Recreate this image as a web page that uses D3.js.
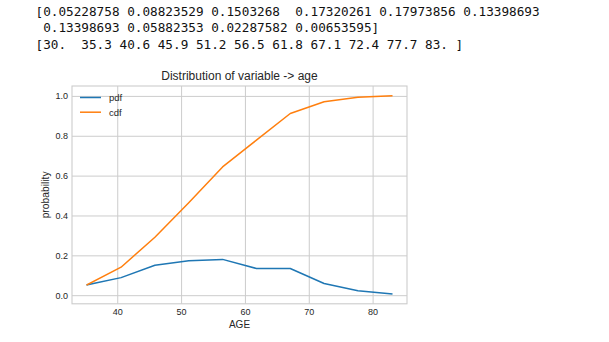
<!DOCTYPE html>
<html><head><meta charset="utf-8">
<script src="https://cdn.jsdelivr.net/npm/d3@7"></script>
<style>
body{margin:0;background:#fff;}
svg{display:block;}
</style></head>
<body>
<script>
const pdf = [0.05228758, 0.08823529, 0.1503268, 0.17320261, 0.17973856, 0.13398693, 0.13398693, 0.05882353, 0.02287582, 0.00653595];
const binEdges = [30.0, 35.3, 40.6, 45.9, 51.2, 56.5, 61.8, 67.1, 72.4, 77.7, 83.0];
const xTicks = [40, 50, 60, 70, 80];
const yTicks = [0.0, 0.2, 0.4, 0.6, 0.8, 1.0];
const seriesNames = ["pdf", "cdf"];
const printedLines = [
  "[0.05228758 0.08823529 0.1503268  0.17320261 0.17973856 0.13398693",
  " 0.13398693 0.05882353 0.02287582 0.00653595]",
  "[30.  35.3 40.6 45.9 51.2 56.5 61.8 67.1 72.4 77.7 83. ]"
];

const W = 609, H = 342;
const svg = d3.select("body").append("svg").attr("width", W).attr("height", H);

// printed output
svg.append("g").selectAll("text").data(printedLines).join("text")
  .attr("x", 35.5).attr("y", (d, i) => 15.6 + i * 16.7)
  .attr("font-family", "DejaVu Sans Mono, monospace")
  .attr("font-size", 12.7).attr("fill", "#111")
  .style("white-space", "pre").attr("xml:space", "preserve")
  .text(d => d);

const xs = binEdges.slice(1);
const cdf = [];
pdf.reduce((a, v, i) => (cdf[i] = a + v), 0);
const data = [pdf, cdf];
const colors = ["#1f77b4", "#ff7f0e"];

const L = 72, R = 407, T = 86, B = 303.8;
const xMin = d3.min(xs), xMax = d3.max(xs);
const xPad = (xMax - xMin) * 0.05;
const allY = pdf.concat(cdf);
const yMin = d3.min(allY), yMax = d3.max(allY);
const yPad = (yMax - yMin) * 0.05;
const x = d3.scaleLinear().domain([xMin - xPad, xMax + xPad]).range([L, R]);
const y = d3.scaleLinear().domain([yMin - yPad, yMax + yPad]).range([B, T]);

const font = "Liberation Sans, Arial, sans-serif";
const textCol = "#262626";
const gridCol = "#cccccc";

// grid
const xAxis = d3.axisBottom(x).tickValues(xTicks).tickSize(-(B - T)).tickPadding(4).tickFormat(d3.format("d"));
const yAxis = d3.axisLeft(y).tickValues(yTicks).tickSize(-(R - L)).tickPadding(4).tickFormat(d3.format(".1f"));

const gx = svg.append("g").attr("transform", `translate(0,${B})`).call(xAxis);
const gy = svg.append("g").attr("transform", `translate(${L},0)`).call(yAxis);
[gx, gy].forEach(g => {
  g.select(".domain").remove();
  g.selectAll(".tick line").attr("stroke", gridCol).attr("stroke-width", 1);
  g.selectAll(".tick text").attr("font-family", font).attr("font-size", 9).attr("fill", textCol);
});
gx.selectAll(".tick text").attr("dy", "0.71em").attr("y", 4.5);

// frame
svg.append("rect").attr("x", L).attr("y", T).attr("width", R - L).attr("height", B - T)
  .attr("fill", "none").attr("stroke", gridCol).attr("stroke-width", 1.1);

// lines
const line = d3.line().x((d, i) => x(xs[i])).y(d => y(d));
svg.append("g").selectAll("path").data(data).join("path")
  .attr("d", d => line(d)).attr("fill", "none")
  .attr("stroke", (d, i) => colors[i]).attr("stroke-width", 1.5)
  .attr("stroke-linejoin", "round").attr("stroke-linecap", "square");

// title & labels
svg.append("text").attr("x", (L + R) / 2).attr("y", 80).attr("text-anchor", "middle")
  .attr("font-family", font).attr("font-size", 12).attr("fill", textCol)
  .text("Distribution of variable -> age");
svg.append("text").attr("x", (L + R) / 2).attr("y", 327.5).attr("text-anchor", "middle")
  .attr("font-family", font).attr("font-size", 10).attr("fill", textCol).text("AGE");
svg.append("text").attr("transform", `translate(48.5,${(T + B) / 2}) rotate(-90)`)
  .attr("text-anchor", "middle")
  .attr("font-family", font).attr("font-size", 10.3).attr("fill", textCol).text("probability");

// legend
const lg = svg.append("g").selectAll("g").data(seriesNames).join("g")
  .attr("transform", (d, i) => `translate(80,${97.5 + i * 14.7})`);
lg.append("line").attr("x1", 0).attr("x2", 21).attr("y1", 0).attr("y2", 0)
  .attr("stroke", (d, i) => colors[i]).attr("stroke-width", 1.5);
lg.append("text").attr("x", 29).attr("y", 0).attr("dy", "0.35em")
  .attr("font-family", font).attr("font-size", 9.5).attr("fill", textCol).text(d => d);
</script>
</body></html>
